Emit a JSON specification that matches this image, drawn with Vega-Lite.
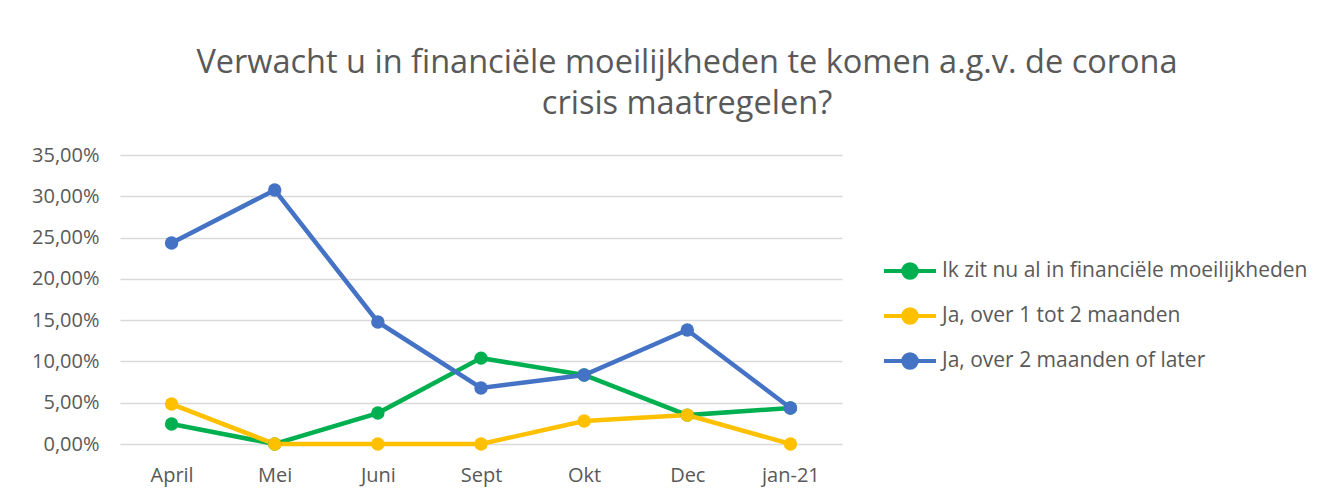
{
  "$schema": "https://vega.github.io/schema/vega-lite/v6.json",
  "width": 722,
  "height": 289,
  "autosize": {"type": "none"},
  "padding": {"left": 120, "top": 155, "right": 481, "bottom": 55},
  "background": "white",
  "config": {
    "locale": {"number": {"decimal": ",", "thousands": ".", "grouping": [3], "currency": ["€ ", ""]}},
    "view": {"stroke": null},
    "font": "Open Sans"
  },
  "title": {
    "text": ["Verwacht u in financiële moeilijkheden te komen a.g.v. de corona", "crisis maatregelen?"],
    "fontSize": 32.5,
    "fontWeight": "normal",
    "color": "#595959",
    "anchor": "middle",
    "frame": "group",
    "dx": 206,
    "offset": 25,
    "lineHeight": 41
  },
  "data": {
    "values": [
      {"maand": "April", "reeks": "Ik zit nu al in financiële moeilijkheden", "waarde": 0.0242},
      {"maand": "Mei", "reeks": "Ik zit nu al in financiële moeilijkheden", "waarde": 0},
      {"maand": "Juni", "reeks": "Ik zit nu al in financiële moeilijkheden", "waarde": 0.0375},
      {"maand": "Sept", "reeks": "Ik zit nu al in financiële moeilijkheden", "waarde": 0.104},
      {"maand": "Okt", "reeks": "Ik zit nu al in financiële moeilijkheden", "waarde": 0.0836},
      {"maand": "Dec", "reeks": "Ik zit nu al in financiële moeilijkheden", "waarde": 0.035},
      {"maand": "jan-21", "reeks": "Ik zit nu al in financiële moeilijkheden", "waarde": 0.0436},
      {"maand": "April", "reeks": "Ja, over 1 tot 2 maanden", "waarde": 0.0484},
      {"maand": "Mei", "reeks": "Ja, over 1 tot 2 maanden", "waarde": 0},
      {"maand": "Juni", "reeks": "Ja, over 1 tot 2 maanden", "waarde": 0},
      {"maand": "Sept", "reeks": "Ja, over 1 tot 2 maanden", "waarde": 0},
      {"maand": "Okt", "reeks": "Ja, over 1 tot 2 maanden", "waarde": 0.0279},
      {"maand": "Dec", "reeks": "Ja, over 1 tot 2 maanden", "waarde": 0.035},
      {"maand": "jan-21", "reeks": "Ja, over 1 tot 2 maanden", "waarde": 0},
      {"maand": "April", "reeks": "Ja, over 2 maanden of later", "waarde": 0.2434},
      {"maand": "Mei", "reeks": "Ja, over 2 maanden of later", "waarde": 0.3076},
      {"maand": "Juni", "reeks": "Ja, over 2 maanden of later", "waarde": 0.1478},
      {"maand": "Sept", "reeks": "Ja, over 2 maanden of later", "waarde": 0.0678},
      {"maand": "Okt", "reeks": "Ja, over 2 maanden of later", "waarde": 0.0836},
      {"maand": "Dec", "reeks": "Ja, over 2 maanden of later", "waarde": 0.138},
      {"maand": "jan-21", "reeks": "Ja, over 2 maanden of later", "waarde": 0.0436}
    ]
  },
  "encoding": {
    "x": {
      "field": "maand",
      "type": "nominal",
      "sort": ["April", "Mei", "Juni", "Sept", "Okt", "Dec", "jan-21"],
      "axis": {
        "title": null,
        "domain": false,
        "ticks": false,
        "grid": false,
        "labelAngle": 0,
        "labelPadding": 21,
        "labelFontSize": 20,
        "labelColor": "#595959"
      }
    },
    "y": {
      "field": "waarde",
      "type": "quantitative",
      "scale": {"domain": [0, 0.35], "nice": false},
      "axis": {
        "title": null,
        "values": [0, 0.05, 0.1, 0.15, 0.2, 0.25, 0.3, 0.35],
        "format": ".2%",
        "domain": false,
        "ticks": false,
        "gridColor": "#d9d9d9",
        "gridWidth": 1.5,
        "labelPadding": 21,
        "labelFontSize": 20,
        "labelColor": "#595959"
      }
    },
    "color": {
      "field": "reeks",
      "type": "nominal",
      "scale": {
        "domain": ["Ik zit nu al in financiële moeilijkheden", "Ja, over 1 tot 2 maanden", "Ja, over 2 maanden of later"],
        "range": ["#00B050", "#FFC000", "#4472C4"]
      },
      "legend": {
        "title": null,
        "orient": "none",
        "legendX": 762,
        "legendY": 88,
        "labelFontSize": 21,
        "labelColor": "#595959",
        "labelOffset": 4,
        "labelLimit": 500,
        "symbolType": "M -1 0 L 1 0 M 0.26 0 A 0.26 0.26 0 1 1 -0.26 0 A 0.26 0.26 0 1 1 0.26 0 Z",
        "symbolSize": 2704,
        "symbolStrokeWidth": 4,
        "rowPadding": 2,
        "symbolOpacity": 1,
        "encode": {
          "symbols": {
            "update": {
              "fill": {"scale": "color", "field": "value"},
              "stroke": {"scale": "color", "field": "value"}
            }
          }
        }
      }
    }
  },
  "layer": [
    {"mark": {"type": "line", "strokeWidth": 4.5}},
    {"mark": {"type": "point", "filled": true, "size": 180, "opacity": 1}}
  ]
}
